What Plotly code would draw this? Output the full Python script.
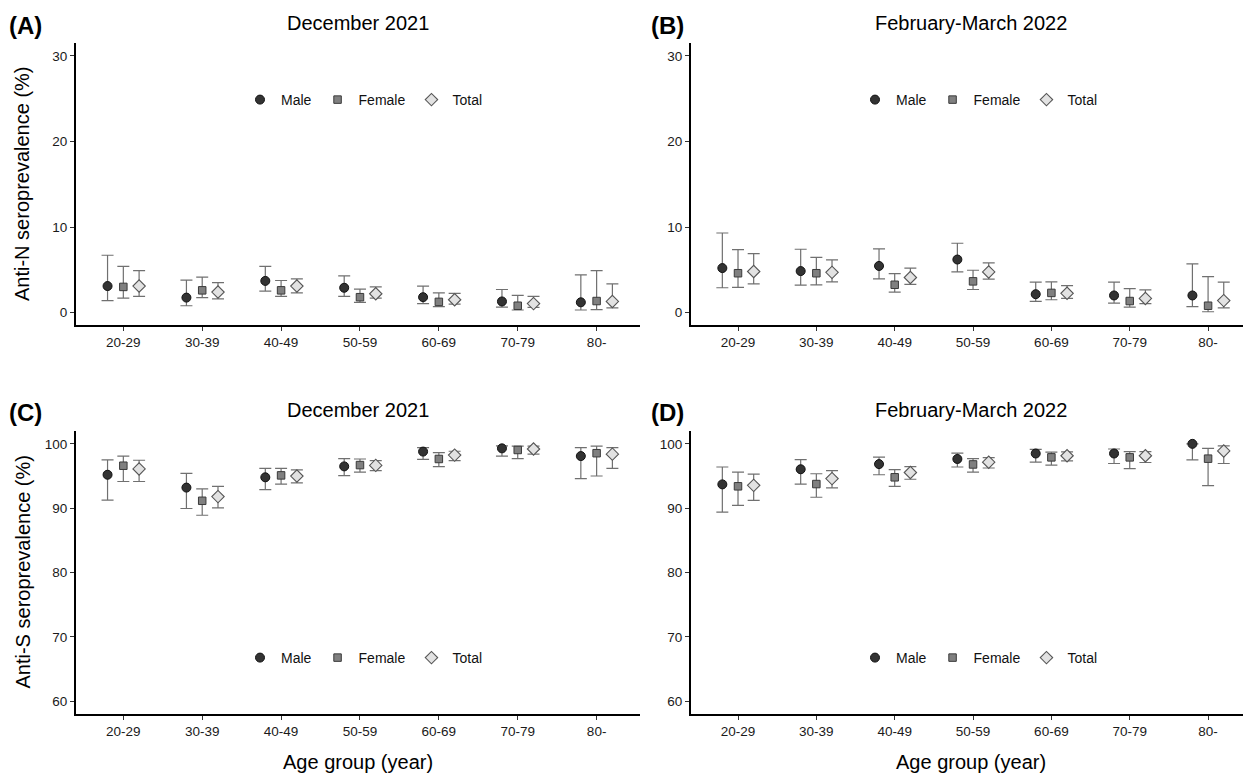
import plotly.graph_objects as go

# ---------------- data ----------------
age_groups = ["20-29", "30-39", "40-49", "50-59", "60-69", "70-79", "80-"]
sexes = ["Male", "Female", "Total"]

# (A) Anti-N, December 2021
a_male = [3.1, 1.75, 3.7, 2.9, 1.8, 1.3, 1.2]
a_male_lo = [1.4, 0.8, 2.5, 1.9, 1.05, 0.65, 0.3]
a_male_hi = [6.7, 3.8, 5.4, 4.3, 3.1, 2.7, 4.4]
a_female = [3.0, 2.6, 2.6, 1.8, 1.25, 0.8, 1.35]
a_female_lo = [1.7, 1.75, 1.9, 1.2, 0.7, 0.3, 0.35]
a_female_hi = [5.4, 4.15, 3.75, 2.75, 2.3, 2.0, 4.9]
a_total = [3.1, 2.4, 3.1, 2.2, 1.5, 1.05, 1.3]
a_total_lo = [1.9, 1.6, 2.3, 1.7, 1.0, 0.6, 0.55]
a_total_hi = [4.9, 3.5, 3.95, 3.0, 2.25, 1.9, 3.35]

# (B) Anti-N, February-March 2022
b_male = [5.2, 4.85, 5.45, 6.2, 2.15, 2.0, 2.0]
b_male_lo = [2.9, 3.2, 3.95, 4.75, 1.3, 1.1, 0.7]
b_male_hi = [9.3, 7.4, 7.45, 8.1, 3.55, 3.55, 5.7]
b_female = [4.6, 4.6, 3.25, 3.65, 2.3, 1.35, 0.8]
b_female_lo = [2.95, 3.25, 2.4, 2.7, 1.5, 0.65, 0.1]
b_female_hi = [7.35, 6.45, 4.55, 4.95, 3.6, 2.8, 4.2]
b_total = [4.8, 4.7, 4.1, 4.75, 2.25, 1.65, 1.4]
b_total_lo = [3.35, 3.6, 3.3, 3.9, 1.65, 1.05, 0.55]
b_total_hi = [6.9, 6.15, 5.2, 5.8, 3.15, 2.65, 3.55]

# (C) Anti-S, December 2021
c_male = [95.2, 93.2, 94.8, 96.5, 98.8, 99.3, 98.1]
c_male_lo = [91.25, 89.95, 92.9, 95.05, 97.6, 98.1, 94.6]
c_male_hi = [97.5, 95.4, 96.2, 97.7, 99.4, 99.7, 99.4]
c_female = [96.6, 91.15, 95.1, 96.7, 97.65, 99.05, 98.55]
c_female_lo = [94.15, 88.9, 93.75, 95.6, 96.45, 97.7, 95.0]
c_female_hi = [98.1, 93.0, 96.2, 97.65, 98.65, 99.65, 99.65]
c_total = [96.1, 91.8, 95.0, 96.65, 98.25, 99.2, 98.4]
c_total_lo = [94.15, 90.05, 93.95, 95.85, 97.4, 98.4, 96.2]
c_total_hi = [97.45, 93.4, 95.95, 97.4, 98.85, 99.65, 99.4]

# (D) Anti-S, February-March 2022
d_male = [93.7, 96.05, 96.85, 97.65, 98.5, 98.5, 100.0]
d_male_lo = [89.4, 93.75, 95.2, 96.4, 97.15, 96.95, 97.5]
d_male_hi = [96.4, 97.55, 97.95, 98.55, 99.15, 99.2, 100.0]
d_female = [93.4, 93.75, 94.8, 96.8, 97.9, 97.9, 97.7]
d_female_lo = [90.45, 91.7, 93.4, 95.6, 96.7, 96.15, 93.5]
d_female_hi = [95.6, 95.35, 96.0, 97.7, 98.7, 98.8, 99.3]
d_total = [93.55, 94.6, 95.55, 97.15, 98.15, 98.15, 98.9]
d_total_lo = [91.2, 93.15, 94.5, 96.25, 97.35, 97.1, 96.95]
d_total_hi = [95.3, 95.85, 96.45, 97.85, 98.75, 98.8, 99.7]

panel_letters = ["(A)", "(B)", "(C)", "(D)"]
panel_titles = ["December 2021", "February-March 2022", "December 2021", "February-March 2022"]
y_titles = ["Anti-N seroprevalence (%)", "Anti-S seroprevalence (%)"]
x_title = "Age group (year)"
y_ticks_n = [0, 10, 20, 30]
y_ticks_s = [60, 70, 80, 90, 100]

# ---------------- layout geometry (pixels, page coordinates) ----------------
W, H = 1251, 774
PAGE_OFF = 8  # default body margin of the html page
FONT = "Liberation Sans, Arial, Helvetica, sans-serif"
col_x = [(76, 640), (691, 1259)]
row_y = [(43, 325), (431, 714)]  # top, bottom in px


def px_x(v):
    return (v - PAGE_OFF) / W


def px_y(v):
    return 1 - (v - PAGE_OFF) / H


styles = {
    "Male": dict(symbol="circle", size=9, color="#333333", line=dict(color="#111111", width=1)),
    "Female": dict(symbol="square", size=7.5, color="#808080", line=dict(color="#3a3a3a", width=1)),
    "Total": dict(symbol="diamond", size=9.5, color="#e2e2e2", line=dict(color="#555555", width=1.1)),
}
offsets = {"Male": -0.2, "Female": 0.0, "Total": 0.2}

panels = [
    {"Male": (a_male, a_male_lo, a_male_hi), "Female": (a_female, a_female_lo, a_female_hi),
     "Total": (a_total, a_total_lo, a_total_hi)},
    {"Male": (b_male, b_male_lo, b_male_hi), "Female": (b_female, b_female_lo, b_female_hi),
     "Total": (b_total, b_total_lo, b_total_hi)},
    {"Male": (c_male, c_male_lo, c_male_hi), "Female": (c_female, c_female_lo, c_female_hi),
     "Total": (c_total, c_total_lo, c_total_hi)},
    {"Male": (d_male, d_male_lo, d_male_hi), "Female": (d_female, d_female_lo, d_female_hi),
     "Total": (d_total, d_total_lo, d_total_hi)},
]

fig = go.Figure()
layout = dict(
    width=W, height=H,
    margin=dict(l=0, r=0, t=0, b=0),
    paper_bgcolor="white", plot_bgcolor="white",
    font=dict(family=FONT, color="#000000"),
    showlegend=True,
)
annotations = []
legend_names = ["legend", "legend2", "legend3", "legend4"]

for i, pdata in enumerate(panels):
    r, c = divmod(i, 2)
    ax = "" if i == 0 else str(i + 1)
    xref, yref = "x" + ax, "y" + ax
    x0, x1 = col_x[c]
    ytop, ybot = row_y[r]
    for s in sexes:
        est, lo, hi = pdata[s]
        xs = [k + offsets[s] for k in range(len(age_groups))]
        fig.add_trace(go.Scatter(
            x=xs, y=est, mode="markers", name=s,
            xaxis=xref, yaxis=yref,
            legend=legend_names[i],
            marker=styles[s],
            error_y=dict(type="data", symmetric=False,
                         array=[h - e for h, e in zip(hi, est)],
                         arrayminus=[e - l for e, l in zip(est, lo)],
                         color="#707070", thickness=1.2, width=6),
            hovertext=age_groups,
        ))
    yr = [-1.45, 31.5] if r == 0 else [58, 102]
    yt = y_ticks_n if r == 0 else y_ticks_s
    right = 6.55 if c == 0 else 6.65
    layout["xaxis" + ax] = dict(
        domain=[px_x(x0), min(1.0, px_x(x1))], anchor=yref, range=[-0.6, right],
        tickmode="array", tickvals=list(range(len(age_groups))), ticktext=age_groups,
        showline=True, linecolor="#000000", linewidth=2, ticks="outside", ticklen=4,
        tickcolor="#333333", tickwidth=1, showgrid=False, zeroline=False,
        tickfont=dict(size=13.5, color="#1a1a1a", family=FONT),
    )
    layout["yaxis" + ax] = dict(
        domain=[px_y(ybot), px_y(ytop)], anchor=xref, range=yr,
        tickmode="array", tickvals=yt,
        showline=True, linecolor="#000000", linewidth=2, ticks="outside", ticklen=4,
        tickcolor="#333333", tickwidth=1, showgrid=False, zeroline=False,
        tickfont=dict(size=13.5, color="#1a1a1a", family=FONT),
    )
    legend_y = 100 if r == 0 else 658
    layout[legend_names[i]] = dict(
        orientation="h", x=px_x(x0 + 163), y=px_y(legend_y),
        xanchor="left", yanchor="middle", bgcolor="rgba(0,0,0,0)",
        font=dict(size=14, color="#111111", family=FONT), itemwidth=32,
        traceorder="normal",
    )
    # panel title
    title_y = 23 if r == 0 else 410
    annotations.append(dict(
        text=panel_titles[i], x=px_x((x0 + min(x1, 1251)) / 2), y=px_y(title_y), xref="paper", yref="paper",
        xanchor="center", yanchor="middle", showarrow=False,
        font=dict(size=20, color="#000000", family=FONT)))
    annotations.append(dict(
        text="<b>" + panel_letters[i] + "</b>", x=px_x(7 if c == 0 else 649), y=px_y(title_y + 2),
        xref="paper", yref="paper", xanchor="left", yanchor="middle", showarrow=False,
        font=dict(size=24, color="#000000", family=FONT)))
    if c == 0:
        annotations.append(dict(
            text=y_titles[r], x=px_x(22), y=px_y((ytop + ybot) / 2), xref="paper", yref="paper",
            xanchor="center", yanchor="middle", textangle=-90, showarrow=False,
            font=dict(size=20, color="#000000", family=FONT)))
    if r == 1:
        annotations.append(dict(
            text=x_title, x=px_x((x0 + min(x1, 1251)) / 2), y=px_y(762), xref="paper", yref="paper",
            xanchor="center", yanchor="middle", showarrow=False,
            font=dict(size=20, color="#000000", family=FONT)))

layout["annotations"] = annotations
fig.update_layout(**layout)
fig.write_html("out.html")
